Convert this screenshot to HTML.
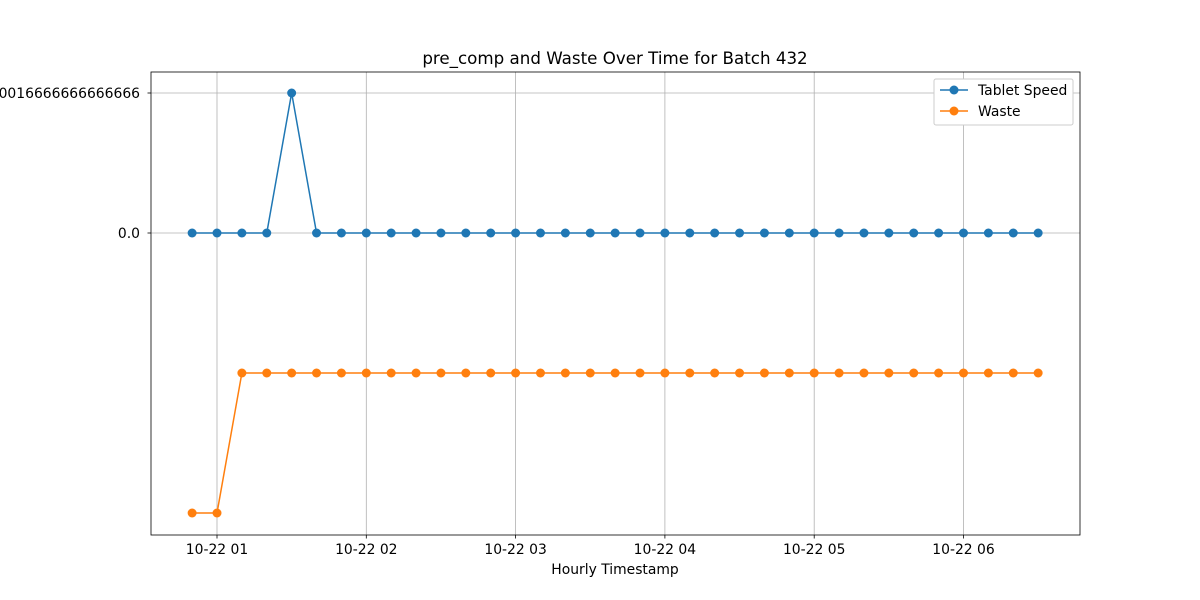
<!DOCTYPE html>
<html><head><meta charset="utf-8"><style>body{margin:0;background:#fff}svg{display:block;font-family:"DejaVu Sans","Liberation Sans",sans-serif}</style></head>
<body>
<svg id="chart" width="1200" height="600">
<rect x="0" y="0" width="1200" height="600" fill="#fff"/>
<g id="grid"></g><g id="series"></g><g id="axes"></g>
</svg>
<script>
// y categories (index level): 0,1 = waste levels (no labels), 2 = "0.0", 3 = "0.0016666666666666"
const yTickLevels = [2, 3];
const yTickLabels = ["0.0", "0.0016666666666666"];
const xTickHours = [1, 2, 3, 4, 5, 6];
const xTickLabels = ["10-22 01","10-22 02","10-22 03","10-22 04","10-22 05","10-22 06"];
const startMinutes = 50; // 00:50
const stepMinutes = 10;
const tabletSpeed = [2,2,2,2,3,2,2,2,2,2,2,2,2,2,2,2,2,2,2,2,2,2,2,2,2,2,2,2,2,2,2,2,2,2,2];
const waste = [0,0,1,1,1,1,1,1,1,1,1,1,1,1,1,1,1,1,1,1,1,1,1,1,1,1,1,1,1,1,1,1,1,1,1];

const L=151,R=1080,T=72,B=535;
const xs = m => 217 + (m-60)*(149.3/60);
const ys = v => 513 - v*140;
const ns="http://www.w3.org/2000/svg";
function mk(tag, attrs, parent, txt){const e=document.createElementNS(ns,tag);for(const k in attrs)e.setAttribute(k,attrs[k]);if(txt!=null)e.textContent=txt;parent.appendChild(e);return e;}
const grid=document.getElementById('grid'),ser=document.getElementById('series'),ax=document.getElementById('axes'),svg=document.getElementById('chart');

xTickHours.forEach((h,i)=>{const x=xs(h*60);
 const g=mk('line',{x1:x,x2:x,y1:T,y2:B,stroke:'#b0b0b0','stroke-width':0.8},grid);
 
 
 mk('line',{x1:x,x2:x,y1:B,y2:B+3.5,stroke:'#000','stroke-width':0.8},ax);
 const t=mk('text',{x:x,y:B+19,'text-anchor':'middle','font-size':13.9},ax,xTickLabels[i]);
 
 
});
yTickLevels.forEach((v,i)=>{const y=ys(v);
 const g=mk('line',{x1:L,x2:R,y1:y,y2:y,stroke:'#b0b0b0','stroke-width':0.8},grid);
 
 
 mk('line',{x1:L-3.5,x2:L,y1:y,y2:y,stroke:'#000','stroke-width':0.8},ax);
 const t=mk('text',{x:L-11,y:y+5,'text-anchor':'end','font-size':13.9},ax,yTickLabels[i]);
 
 
});
function drawSeries(vals,color,name){
 const pts=vals.map((v,i)=>[xs(startMinutes+i*stepMinutes),ys(v)]);
 const p=mk('polyline',{points:pts.map(p=>p.join(',')).join(' '),fill:'none',stroke:color,'stroke-width':1.5},ser);
 
 
 pts.forEach(q=>{const c=mk('circle',{cx:q[0],cy:q[1],r:4.5,fill:color},ser);
  
  });
}
drawSeries(waste,'#ff7f0e','waste');
drawSeries(tabletSpeed,'#1f77b4','tablet-speed');

const fr=mk('rect',{x:L,y:T,width:R-L,height:B-T,fill:'none',stroke:'#000','stroke-width':0.8},ax);


const ti=mk('text',{x:615,y:64,'text-anchor':'middle','font-size':16.7},ax,'pre_comp and Waste Over Time for Batch 432');


const xl=mk('text',{x:615,y:574,'text-anchor':'middle','font-size':13.9},ax,'Hourly Timestamp');



const lg=mk('g',{},ax);


mk('rect',{x:934,y:79,width:139,height:46,rx:2,fill:'#fff',stroke:'#ccc'},lg);
[['Tablet Speed','#1f77b4',90],['Waste','#ff7f0e',111]].forEach(([n,c,y])=>{
 const e=mk('g',{},lg);
 
 
 mk('line',{x1:940,x2:968,y1:y,y2:y,stroke:c,'stroke-width':1.5},e);
 mk('circle',{cx:954,cy:y,r:4.5,fill:c},e);
 mk('text',{x:978,y:y+5,'font-size':13.9},e,n);
});
</script>
</body></html>
